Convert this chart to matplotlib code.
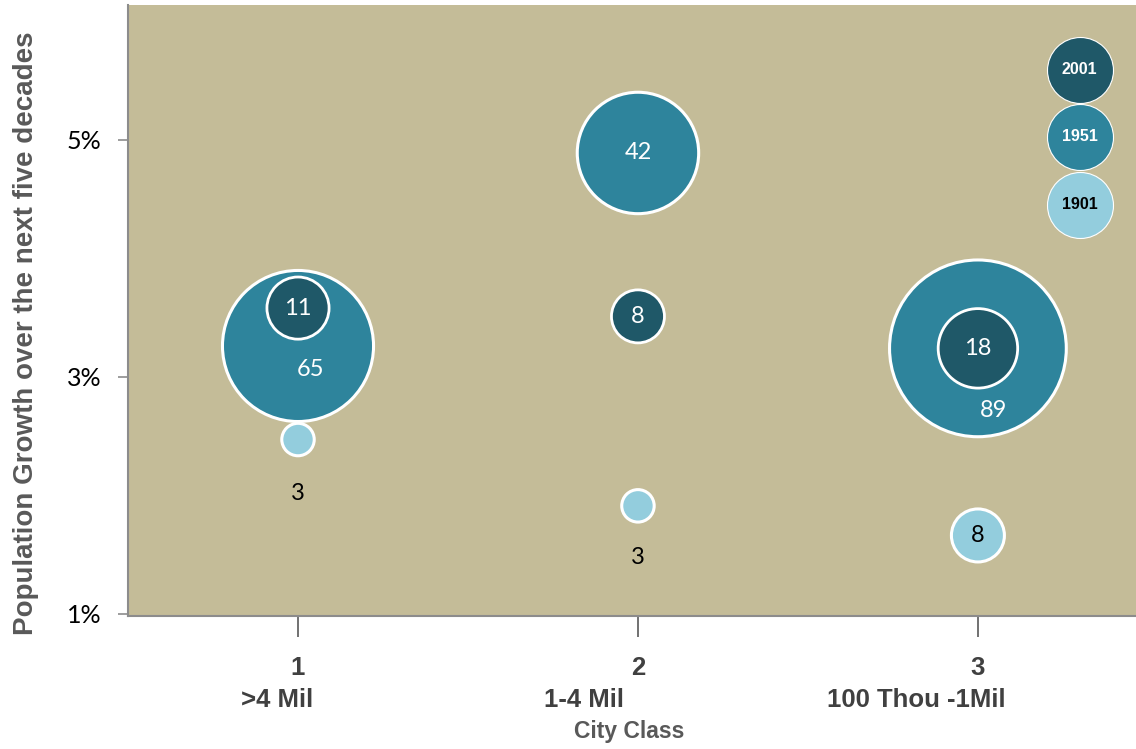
import numpy as np
import matplotlib.pyplot as plt

# data
city_class = [1, 2, 3]
class_names = ['>4 Mil', '1-4 Mil', '100 Thou -1Mil']
years = ['2001', '1951', '1901']

growth_1951 = [3.26, 4.89, 3.24]
cities_1951 = [65, 42, 89]
growth_2001 = [3.58, 3.51, 3.24]
cities_2001 = [11, 8, 18]
growth_1901 = [2.47, 1.91, 1.66]
cities_1901 = [3, 3, 8]

y_ticks = [1, 3, 5]

colors = {'2001': '#1f5868', '1951': '#2e849c', '1901': '#93cddd'}
bg = '#c4bc98'
scale = 182  # points^2 per city

fig = plt.figure(figsize=(11.36, 7.49), dpi=100)
ax = fig.add_axes([0.1127, 0.1776, 0.8873, 0.8158])
ax.set_facecolor(bg)

ax.scatter(city_class, growth_1951, s=np.array(cities_1951) * scale,
           color=colors['1951'], edgecolor='white', linewidth=2.2, zorder=2)
ax.scatter(city_class, growth_2001, s=np.array(cities_2001) * scale,
           color=colors['2001'], edgecolor='white', linewidth=2.0, zorder=3)
ax.scatter(city_class, growth_1901, s=np.array(cities_1901) * scale,
           color=colors['1901'], edgecolor='white', linewidth=2.2, zorder=3)

lbl_font = dict(family=['Lato', 'DejaVu Sans'], fontsize=17, zorder=5,
                ha='center', va='center', textcoords='offset points')

# value labels (offsets in points, tuned to the picture)
off_1951 = [(9, -17), (0, 0), (11, -45)]
off_1901 = [(0, -39), (0, -37), (0, 0)]
for i in range(3):
    ax.annotate(str(cities_1951[i]), (city_class[i], growth_1951[i]),
                xytext=off_1951[i], color='white', **lbl_font)
    ax.annotate(str(cities_2001[i]), (city_class[i], growth_2001[i]),
                xytext=(0, 0), color='white', **lbl_font)
    ax.annotate(str(cities_1901[i]), (city_class[i], growth_1901[i]),
                xytext=off_1901[i], color='black', **lbl_font)

# legend bubbles
leg_y = [0.894, 0.784, 0.673]
for yr, yy in zip(years, leg_y):
    ax.scatter([0.944], [yy], s=2257, color=colors[yr], edgecolor='white',
               linewidth=0.8, transform=ax.transAxes, zorder=4)
    ax.text(0.944, yy, yr, transform=ax.transAxes, ha='center', va='center',
            fontsize=11.5, fontweight='bold', family='Liberation Sans',
            color='black' if yr == '1901' else 'white', zorder=5)

ax.set_xlim(0.5, 3.465)
ax.set_ylim(0.98, 6.14)

for s in ['top', 'right']:
    ax.spines[s].set_visible(False)
for s in ['left', 'bottom']:
    ax.spines[s].set_color('#8c8c8c')
    ax.spines[s].set_linewidth(1.5)

ax.set_yticks(y_ticks)
ax.set_yticklabels([f'{v}%' for v in y_ticks], family='Lato', fontsize=18)
ax.tick_params(axis='y', length=7, color='#8c8c8c', width=1.2, pad=12)

ax.set_xticks(city_class)
ax.set_xticklabels([str(c) for c in city_class], fontsize=18.5,
                   fontweight='bold', family='Liberation Sans', color='#404040')
ax.tick_params(axis='x', length=15, color='#595959', width=1.2, pad=14)

name_shift = [-0.06, -0.16, -0.18]
for c, name, dx in zip(city_class, class_names, name_shift):
    ax.text(c + dx, -0.137, name, transform=ax.get_xaxis_transform(),
            ha='center', va='center', fontsize=18.5, fontweight='bold',
            family='Liberation Sans', color='#404040')

ax.text(0.497, -0.189, 'City Class', transform=ax.transAxes, ha='center',
        va='center', fontsize=16.5, fontweight='bold', family='Liberation Sans',
        color='#595959')
ax.set_ylabel('Population Growth over the next five decades', fontsize=20,
              fontweight='bold', family='Liberation Sans', color='#595959')
ax.yaxis.set_label_coords(-0.088, 0.463)

fig.savefig('out.png', dpi=100)
